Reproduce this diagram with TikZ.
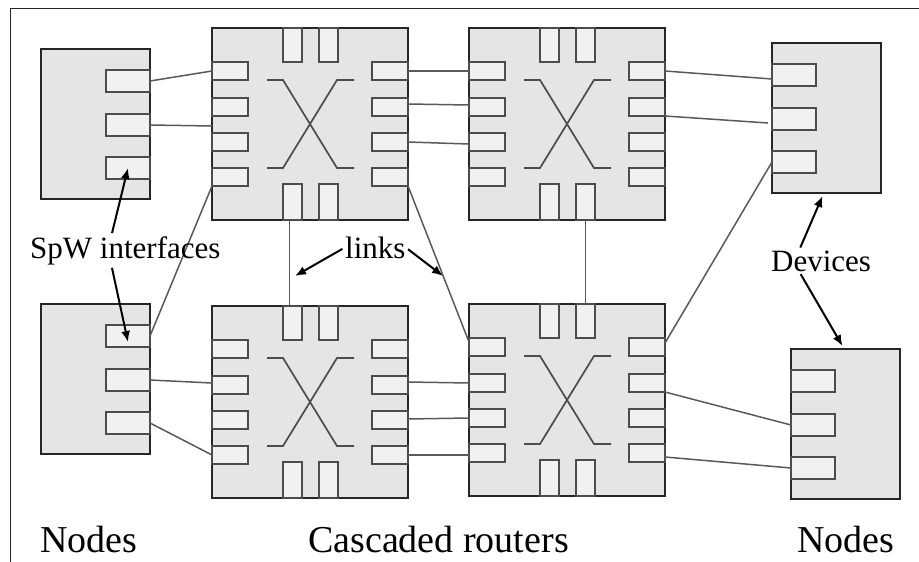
\documentclass[tikz,border=0pt]{standalone}
\usepackage{fontspec}
\setmainfont{Liberation Serif}
\usepackage{tikz}
\usetikzlibrary{arrows.meta}

\definecolor{boxgray}{HTML}{E5E5E5}
\definecolor{portgray}{HTML}{F1F1F1}
\tikzset{
  box/.style={draw=black!85,line width=2pt,fill=boxgray,inner sep=0pt,outer sep=0pt,anchor=north west},
  port/.style={draw=black!70,line width=1.9pt,fill=portgray,inner sep=0pt,outer sep=0pt,anchor=north west},
  cross/.style={draw=black!70,line width=1.7pt},
  link/.style={draw=black!65,line width=1.5pt},
  pointer/.style={-{Latex[length=11pt,width=9pt]},line width=2pt,shorten <=3pt},
  biglabel/.style={inner sep=0pt,anchor=base west,font=\fontsize{38}{42}\selectfont},
  smalllabel/.style={inner sep=0pt,anchor=base west,font=\fontsize{31}{36}\selectfont}
}

\newcommand{\routerbox}[3]{%
\begin{scope}[shift={(#2,#3)}]
\node[box,minimum width=196pt,minimum height=192pt] (#1) at (0,0) {};
\foreach \i/\yy in {1/34,2/70,3/105,4/140} {
  \node[port,minimum width=36pt,minimum height=18pt] (#1w\i) at (0,\yy) {};
  \node[port,minimum width=36pt,minimum height=18pt] (#1e\i) at (160,\yy) {};
}
\foreach \i/\xx in {1/71,2/107} {
  \node[port,minimum width=19pt,minimum height=34pt] (#1t\i) at (\xx,0) {};
  \node[port,minimum width=19pt,minimum height=36pt] (#1b\i) at (\xx,156) {};
}
\draw[cross] (55,52) -- (71,52) -- (125,140) -- (142,140);
\draw[cross] (142,52) -- (125,52) -- (71,140) -- (55,140);
\end{scope}}

% #4 = where the ports start inside the box
\newcommand{\devicebox}[4]{%
\begin{scope}[shift={(#2,#3)}]
\node[box,minimum width=109pt,minimum height=150pt] (#1) at (0,0) {};
\foreach \i/\yy in {1/21,2/65,3/108} {
  \node[port,minimum width=44pt,minimum height=22pt] (#1p\i) at (#4,\yy) {};
}
\end{scope}}

\begin{document}
\begin{tikzpicture}[x=1pt,y=-1pt]
\useasboundingbox (0,0) rectangle (919,562);
\draw[black!85,line width=1pt] (919,8) -- (10,8) -- (10,562);

\devicebox{n1}{41}{49}{65}
\devicebox{n2}{772}{43}{0}
\devicebox{n3}{41}{304}{65}
\devicebox{n4}{791}{349}{0}
\routerbox{r1}{212}{28}
\routerbox{r2}{469}{28}
\routerbox{r3}{212}{306}
\routerbox{r4}{469}{304}

% links
\draw[link] (n1p1.east) -- (r1w1.west);
\draw[link] (n1p2.east) -- ([yshift=-2pt]r1.west);
\draw[link] (n3p1.east) -- (r1w4.south west);
\draw[link] (n3p2.east) -- ([yshift=2pt]r3w2.west);
\draw[link] (n3p3.east) -- (r3w4.west);
\draw[link] (r1e1.east) -- (r2w1.west);
\draw[link] ([yshift=3pt]r1e2.east) -- ([yshift=2pt]r2w2.west);
\draw[link] (r1e3.east) -- ([yshift=-2pt]r2w3.west);
\draw[link] ([yshift=3pt]r3e2.east) -- (r4w2.west);
\draw[link] ([yshift=1pt]r3e3.east) -- (r4w3.west);
\draw[link] (r3e4.east) -- ([yshift=-2pt]r4w4.west);
\draw[link] ([xshift=-3pt]r1b1.south) -- ([xshift=-3pt]r3t1.north);
\draw[link] (r2b2.south) -- (r4t2.north);
\draw[link] (r1e4.south east) -- ([yshift=-4pt]r4w1.north west);
\draw[link] (r2e1.east) -- ([yshift=-4pt]n2p1.west);
\draw[link] (r2e2.south east) -- ([xshift=-4pt,yshift=-4pt]n2p2.west);
\draw[link] ([yshift=4pt]r4e1.east) -- (n2p3.west);
\draw[link] (r4e2.south east) -- (n4p2.west);
\draw[link] ([yshift=-4pt]r4e4.east) -- (n4p3.west);

% labels
\node[smalllabel] (spw) at (30,258) {SpW interfaces};
\node[smalllabel] (links) at (345,258) {links};
\node[smalllabel] (devices) at (771,271) {Devices};
\node[biglabel] (leftnodes) at (40,552) {Nodes};
\node[biglabel] (routers) at (308,552) {Cascaded routers};
\node[biglabel] (rightnodes) at (797,552) {Nodes};

\coordinate (linkl) at (295,276);
\coordinate (linkr) at (443,276);
\draw[pointer] ([xshift=-14pt]spw.north) -- (n1p3.center);
\draw[pointer] ([xshift=-14pt]spw.south) -- ([yshift=-6pt]n3p1.center);
\draw[pointer] (links.west) -- (linkl);
\draw[pointer] (links.east) -- (linkr);
\draw[pointer] ([xshift=-22pt]devices.north) -- ([xshift=-4pt,yshift=-3pt]n2.south);
\draw[pointer] ([xshift=-22pt]devices.south) -- ([xshift=-3pt,yshift=3pt]n4.north);
\end{tikzpicture}
\end{document}
